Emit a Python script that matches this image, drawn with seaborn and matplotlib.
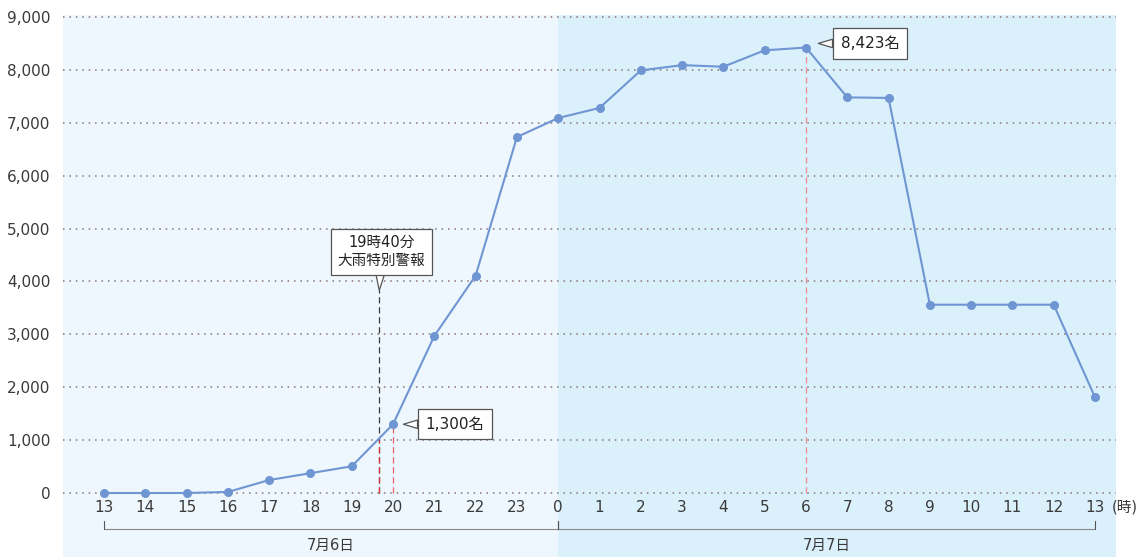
import numpy as np
import pandas as pd
import matplotlib
matplotlib.use("Agg")
import matplotlib.pyplot as plt
import seaborn as sns

# Hourly evacuee counts, 13:00 on 7/6 through 13:00 on 7/7
hour_labels = ["13", "14", "15", "16", "17", "18", "19", "20", "21", "22", "23",
               "0", "1", "2", "3", "4", "5", "6", "7", "8", "9", "10", "11", "12", "13"]
evacuees = [0, 0, 0, 20, 245, 375, 505, 1300, 2970, 4110, 6730,
            7090, 7280, 7990, 8090, 8060, 8370, 8423, 7480, 7470, 3560, 3560, 3560, 3560, 1810]
y_ticks = [0, 1000, 2000, 3000, 4000, 5000, 6000, 7000, 8000, 9000]
day_labels = ["7月6日", "7月7日"]
warning_text = "19時40分\n大雨特別警報"
warning_pos = 6 + 40 / 60  # 19:40

df = pd.DataFrame({"pos": np.arange(len(evacuees)), "count": evacuees})

sns.set_style("white")
plt.rcParams["font.family"] = ["DejaVu Sans", "Noto Sans CJK JP"]
TXT = "#3a3a3a"

fig = plt.figure(figsize=(11.42, 5.57), dpi=100)
W, H = 1142, 557
ax = fig.add_axes([63 / W, 0, (1116 - 63) / W, (557 - 15) / H])

px_per_unit_y = (493 - 17) / 9000
ax.set_ylim(-(557 - 493) / px_per_unit_y, 9000 + 2 / px_per_unit_y)
step = (1095 - 104) / 24
ax.set_xlim(-(104 - 63) / step, 24 + (1116 - 1095) / step)

# Day backgrounds
ax.axvspan(ax.get_xlim()[0], 11, color="#eef7fd", zorder=0, lw=0)
ax.axvspan(11, ax.get_xlim()[1], color="#daf0fb", zorder=0, lw=0)

# Dotted gridlines
for v in y_ticks:
    ax.axhline(v, color="#8a7370", lw=1.1, ls=(0, (1, 3.2)), zorder=1)

# Guide lines
ax.plot([warning_pos, warning_pos], [0, 3830], color="#3a3a3a", lw=0.9,
        ls=(0, (5, 3)), zorder=2)
ax.plot([warning_pos, warning_pos], [0, 1000], color="#e0303a", lw=0.9,
        ls=(0, (5, 3)), zorder=2.1)
ax.plot([7, 7], [0, 1300], color="#e8606a", lw=0.9, ls=(0, (5, 3)), zorder=2)
ax.plot([17, 17], [0, 8423], color="#ee8a92", lw=0.9, ls=(0, (5, 3)), zorder=2)

sns.lineplot(data=df, x="pos", y="count", ax=ax, color="#6f96d3", lw=1.5,
             marker="o", markersize=6.5, markeredgewidth=0, zorder=3)
ax.set_xlabel("")
ax.set_ylabel("")

for s in ax.spines.values():
    s.set_visible(False)

ax.set_yticks(y_ticks)
ax.set_yticklabels([f"{v:,}" for v in y_ticks], fontsize=11, color=TXT)
ax.tick_params(axis="y", length=0, pad=9)
ax.set_xticks([])

# Hour labels
label_y = -(507 - 493) / px_per_unit_y
for i, lab in enumerate(hour_labels):
    ax.text(i, label_y, lab, ha="center", va="center", fontsize=11, color=TXT)
ax.text(24.4, label_y, "(時)", ha="left", va="center", fontsize=10.5, color=TXT)

# Day brackets
br_y = -(529 - 493) / px_per_unit_y
tick_h = 8 / px_per_unit_y
for (a, b), lab in zip([(0, 11), (11, 24)], day_labels):
    ax.plot([a, b], [br_y, br_y], color="#888888", lw=0.8, zorder=2)
    ax.plot([a, a], [br_y, br_y + tick_h], color="#555555", lw=0.8, zorder=2)
    ax.plot([b, b], [br_y, br_y + tick_h], color="#555555", lw=0.8, zorder=2)
    ax.text((a + b) / 2, -(545 - 493) / px_per_unit_y, lab, ha="center",
            va="center", fontsize=10.5, color=TXT)

box = dict(boxstyle="square,pad=0.45", fc="white", ec="#555555", lw=0.9)
wedge = dict(arrowstyle="wedge,tail_width=0.55", fc="white", ec="#555555",
             lw=0.9, shrinkA=0, shrinkB=0)

# Warning callout
ax.annotate(warning_text, xy=(warning_pos, 3830),
            xytext=(warning_pos + 0.05, 4560), ha="center", va="center",
            fontsize=10.5, color="#222222", linespacing=1.25, bbox=box,
            arrowprops=wedge, zorder=5)

# Value callouts
ax.annotate(f"{evacuees[7]:,}名", xy=(7.25, 1300), xytext=(8.5, 1300),
            ha="center", va="center", fontsize=11, color="#222222",
            bbox=dict(boxstyle="square,pad=0.5", fc="white", ec="#555555", lw=0.9),
            arrowprops=wedge, zorder=5)
ax.annotate(f"{evacuees[17]:,}名", xy=(17.3, 8500), xytext=(18.55, 8500),
            ha="center", va="center", fontsize=11, color="#222222",
            bbox=dict(boxstyle="square,pad=0.5", fc="white", ec="#555555", lw=0.9),
            arrowprops=wedge, zorder=5)

fig.savefig("out.png", dpi=100)
